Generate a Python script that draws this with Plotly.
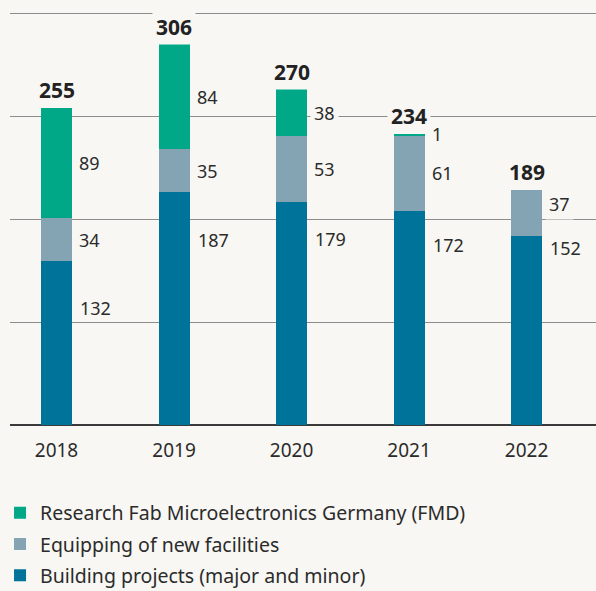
import plotly.graph_objects as go

years = ["2018", "2019", "2020", "2021", "2022"]
building = [132, 187, 179, 172, 152]
equipping = [34, 35, 53, 61, 37]
fmd = [89, 84, 38, 1, 0]
totals = [255, 306, 270, 234, 189]

names = {
    "fmd": "Research Fab Microelectronics Germany (FMD)",
    "equip": "Equipping of new facilities",
    "build": "Building projects (major and minor)",
}

BG = "#f8f7f3"
TXT = "#2b2b2b"
C_BUILD = "#00739a"
C_EQUIP = "#84a3b3"
C_FMD = "#00a887"
FONT = "Noto Sans"
BAR_W = 0.264

fig = go.Figure()
fig.add_trace(go.Bar(x=years, y=building, name=names["build"], marker_color=C_BUILD,
                     width=BAR_W, legendgroup="b", legendrank=3, marker_line_width=0))
fig.add_trace(go.Bar(x=years, y=equipping, name=names["equip"], marker_color=C_EQUIP,
                     width=BAR_W, legendgroup="e", legendrank=2, marker_line_width=0))
fig.add_trace(go.Bar(x=[y for y, v in zip(years, fmd) if v > 0],
                     y=[v for v in fmd if v > 0], name=names["fmd"], marker_color=C_FMD,
                     width=BAR_W, legendgroup="f", legendrank=1, marker_line_width=0))

ann = []
seg_font = dict(family=FONT, size=18, color=TXT)
# style offsets (pixels) for label placement
build_drop = [47, 48, 37, 34, 12]
equip_shift = [0, 0, 0, 0, 9]
for i, yr in enumerate(years):
    xr = i + BAR_W / 2
    ann.append(dict(x=xr, y=building[i], xref="x", yref="y", text=str(building[i]),
                    showarrow=False, xanchor="left", yanchor="middle", xshift=6,
                    yshift=-build_drop[i], font=seg_font))
    ann.append(dict(x=xr, y=building[i] + equipping[i] / 2, xref="x", yref="y",
                    text=str(equipping[i]), showarrow=False, xanchor="left",
                    yanchor="middle", xshift=3, yshift=equip_shift[i], font=seg_font,
                    bgcolor=BG, borderpad=3))
    if fmd[i] > 0:
        ann.append(dict(x=xr, y=building[i] + equipping[i] + fmd[i] / 2, xref="x", yref="y",
                        text=str(fmd[i]), showarrow=False, xanchor="left",
                        yanchor="middle", xshift=3, font=seg_font,
                        bgcolor=BG, borderpad=3))
    ann.append(dict(x=i, y=totals[i], xref="x", yref="y", text="<b>%d</b>" % totals[i],
                    showarrow=False, xanchor="center", yanchor="middle", yshift=17.5,
                    font=dict(family=FONT, size=21, color="#222222"),
                    bgcolor=BG, borderpad=3))

fig.update_layout(
    width=596, height=591,
    margin=dict(l=10, r=0, t=0, b=166),
    paper_bgcolor=BG, plot_bgcolor=BG,
    barmode="stack",
    bargap=0,
    annotations=ann,
    showlegend=True,
    legend=dict(x=-0.017, xref="paper", y=0.165, yref="container",
                xanchor="left", yanchor="top",
                traceorder="grouped", tracegroupgap=3,
                font=dict(family=FONT, size=19.5, color=TXT), bgcolor="rgba(0,0,0,0)"),
    font=dict(family=FONT, color=TXT),
)
fig.update_xaxes(type="category", range=[-0.3957, 4.591], showgrid=False, showline=False,
                 tickfont=dict(family=FONT, size=19, color=TXT), ticks="",
                 ticklabelstandoff=12)
fig.update_yaxes(range=[0, 341.6], tickvals=[0, 82.75, 165.5, 248.25, 331],
                 showticklabels=False, showgrid=True, gridcolor="#8c8c8c", gridwidth=1.3,
                 zeroline=True, zerolinecolor="#3a3a3a", zerolinewidth=1.6)

fig.write_html("out.html", config={"displayModeBar": False},
               post_script="document.body.style.margin='0';document.body.style.overflow='hidden';")
